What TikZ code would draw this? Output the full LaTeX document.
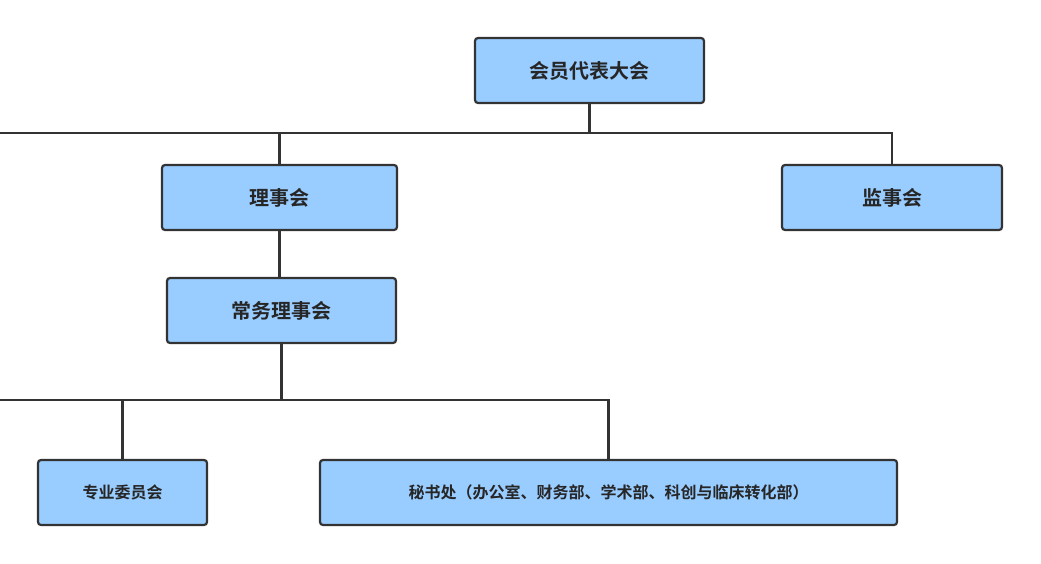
\documentclass[tikz,border=0pt]{standalone}
\usepackage{fontspec}
\newfontfamily\cjk{Noto Sans CJK SC}[BoldFont={Noto Sans CJK SC Bold}]
\usetikzlibrary{positioning}
\begin{document}
\begin{tikzpicture}
[x=1pt, y=-1pt, line width=2.2pt, draw=black!80,
box/.style={rectangle, draw=black!80, fill=blue!40!cyan!25, rounded corners=3pt, minimum height=65pt, inner sep=0pt, font=\cjk\bfseries\fontsize{20}{24}\selectfont, text=black!85},
small/.style={box, font=\cjk\bfseries\fontsize{16}{20}\selectfont}]
\useasboundingbox (0,0) rectangle (1041,564);
\tikzset{box/.append style={fill={rgb,255:red,153;green,204;blue,255}}}

\node[box, minimum width=229pt] (dahui) at (589.5,70.5) {会员代表大会};
\node[box, minimum width=235pt] (lishi) at (279.5,197.5) {理事会};
\node[box, minimum width=220pt] (jianshi) at (892,197.5) {监事会};
\node[box, minimum width=229pt] (changwu) at (281.5,310.5) {常务理事会};
\node[small, minimum width=169pt] (zhuanye) at (122.5,492.5) {专业委员会};
\node[small, minimum width=577pt] (mishu) at (608.5,492.5) {秘书处（办公室、财务部、学术部、科创与临床转化部）};

\draw (dahui.south) |- (0,133) coordinate (top);
\draw (lishi.north) |- (589.5,133) -| (jianshi.north);
\draw (lishi.south) -- (changwu.north -| lishi.south);
\draw (changwu.south) |- (0,400) coordinate (mid);
\draw (zhuanye.north) |- (281.5,400) -| (mishu.north);
\end{tikzpicture}
\end{document}
